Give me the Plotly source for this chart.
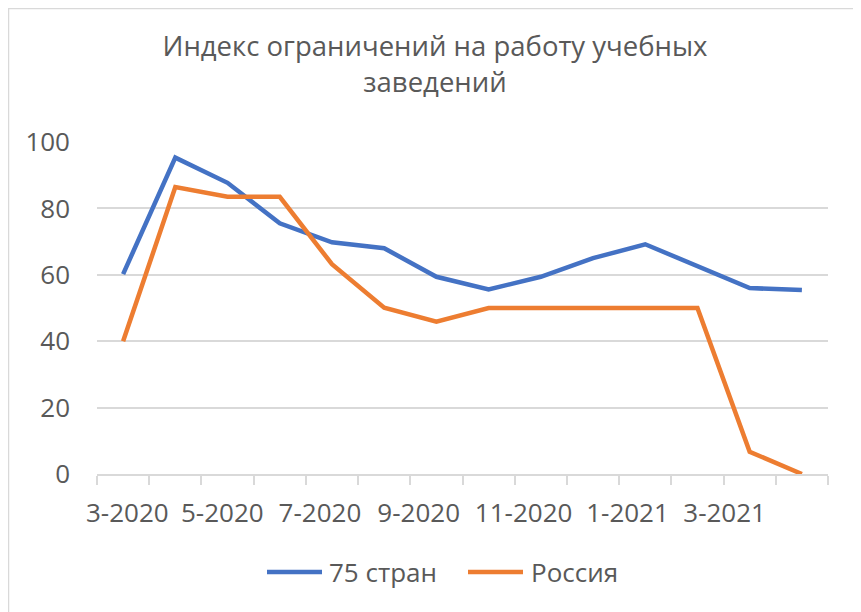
import plotly.graph_objects as go

MONTHS = ["3-2020", "4-2020", "5-2020", "6-2020", "7-2020", "8-2020", "9-2020",
          "10-2020", "11-2020", "12-2020", "1-2021", "2-2021", "3-2021", "4-2021"]
WORLD_75 = [60.2, 95.3, 87.7, 75.5, 69.8, 68.0, 59.4, 55.6, 59.4, 65.0, 69.2, 62.7, 56.0, 55.4]
RUSSIA = [40.0, 86.4, 83.5, 83.5, 63.2, 50.1, 45.9, 50.0, 50.0, 50.0, 50.0, 50.0, 6.7, 0.0]
TICK_LABELS = ["3-2020", "5-2020", "7-2020", "9-2020", "11-2020", "1-2021", "3-2021"]
# Excel places the every-other-month labels slightly offset from category centres
TICK_POS = [0.08, 1.9, 3.77, 5.66, 7.67, 9.66, 11.52]
Y_TICKS = [0, 20, 40, 60, 80, 100]
SERIES_NAMES = ["75 стран", "Россия"]
COLORS = ["#4472C4", "#ED7D31"]

FONT = "'Open Sans', sans-serif"
GRAY = "#595959"
GRID = "#d9d9d9"
FS = 26

x_idx = list(range(len(MONTHS)))

fig = go.Figure()
for name, vals, col in zip(SERIES_NAMES, [WORLD_75, RUSSIA], COLORS):
    fig.add_trace(go.Scatter(x=x_idx, y=vals, name=name, mode="lines",
                             line=dict(color=col, width=4.5),
                             customdata=MONTHS, showlegend=False,
                             hovertemplate="%{customdata}: %{y}<extra>" + name + "</extra>"))

# page is offset by the 8px body margin of the html page
OFF = 8
W, H = 861 - OFF, 612 - OFF
L, R, T, B = 97 - OFF, 33, 142 - OFF, 138
pw, ph = W - L - R, H - T - B

def px2paper(px, py):
    # px, py in page pixels
    return (px - OFF - L) / pw, (H - B - (py - OFF)) / ph

x0, y0 = px2paper(8.5, 8.5)
x1, y1 = px2paper(900, 650)

shapes = [dict(type="rect", xref="paper", yref="paper", x0=x0, y0=y0, x1=x1, y1=y1,
               line=dict(color=GRID, width=1.5), fillcolor="rgba(0,0,0,0)", layer="below")]
annotations = []
# legend (Excel style, long line samples)
legend_items = [(267, 322, 327), (468, 523, 529)]
for (lx0, lx1, tx), name, col in zip(legend_items, SERIES_NAMES, COLORS):
    ax0, ay = px2paper(lx0, 572)
    ax1, _ = px2paper(lx1, 572)
    shapes.append(dict(type="line", xref="paper", yref="paper", x0=ax0, x1=ax1, y0=ay, y1=ay,
                       line=dict(color=col, width=4.5)))
    tx_p, _ = px2paper(tx, 572)
    annotations.append(dict(text=name, xref="paper", yref="paper", x=tx_p, y=ay,
                            xanchor="left", yanchor="middle", showarrow=False,
                            font=dict(family=FONT, size=FS, color=GRAY)))

fig.update_layout(
    width=W, height=H,
    margin=dict(l=L, r=R, t=T, b=B),
    paper_bgcolor="white", plot_bgcolor="white",
    font=dict(family=FONT, color=GRAY, size=FS),
    title=dict(text="Индекс ограничений на работу учебных<br>заведений",
               x=(435 - OFF) / W, xanchor="center", xref="container",
               y=1 - (56 - OFF) / H, yanchor="top", yref="container",
               font=dict(family=FONT, size=27.5, color=GRAY)),
    showlegend=False,
    xaxis=dict(range=[-0.5, len(MONTHS) - 0.5], showgrid=False, zeroline=False,
               showline=True, linecolor=GRID, linewidth=1.5,
               tickmode="array", tickvals=TICK_POS, ticktext=TICK_LABELS,
               ticks="", ticklabelstandoff=15,
               tickfont=dict(family=FONT, size=FS, color=GRAY),
               minor=dict(tickmode="array", tickvals=[i - 0.5 for i in range(len(MONTHS) + 1)],
                          ticks="outside", ticklen=9, tickcolor=GRID, tickwidth=1.5,
                          showgrid=False)),
    yaxis=dict(range=[0, 100], tickmode="array", tickvals=Y_TICKS,
               showgrid=True, gridcolor=GRID, gridwidth=1.5, zeroline=False,
               showline=False, ticks="", ticklabelstandoff=26,
               tickfont=dict(family=FONT, size=FS, color=GRAY)),
    shapes=shapes,
    annotations=annotations,
)

fig.write_html("out.html")
